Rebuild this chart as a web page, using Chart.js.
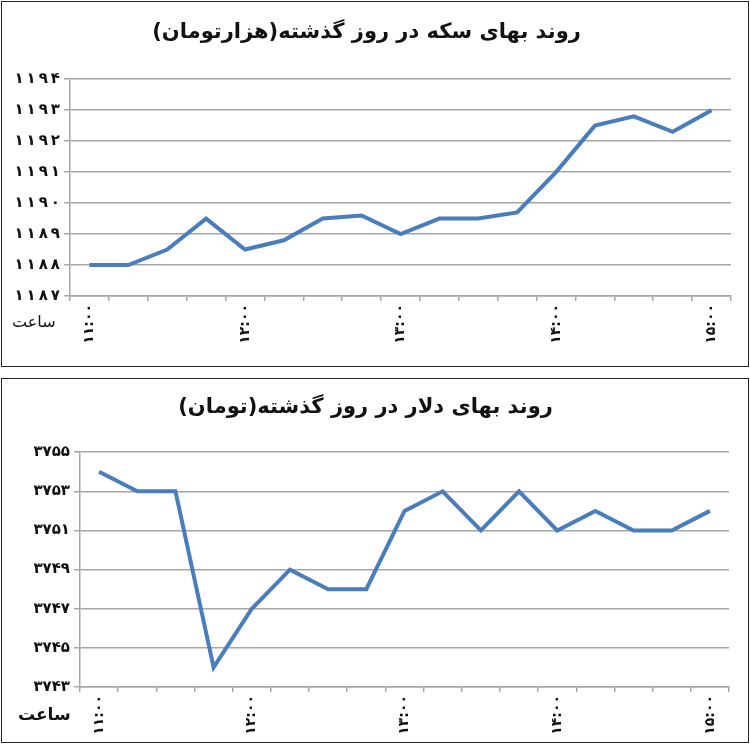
<!DOCTYPE html>
<html>
<head>
<meta charset="utf-8">
<script src="https://cdn.jsdelivr.net/npm/chart.js@4.4.1/dist/chart.umd.min.js"></script>
<style>
  body { margin: 0; background: #fff; width: 750px; height: 745px; position: relative; }
  .box { position: absolute; left: 1px; width: 746px; border: 1px solid #222; background: #fff; }
  #box1 { top: 1px; height: 364px; }
  #box2 { top: 378px; height: 363px; }
  .hour { position: absolute; font-family: "DejaVu Sans", sans-serif; color: #111; direction: rtl; }
</style>
</head>
<body>
<div class="box" id="box1"><canvas id="coin"></canvas></div>
<div class="box" id="box2"><canvas id="dollar"></canvas></div>
<span class="hour" style="left:12px; top:312px; font-size:16px;">ساعت</span>
<span class="hour" style="left:18px; top:704px; font-size:17px; font-weight:bold;">ساعت</span>
<script>
// quarter-hour readings, 11:00 to 15:00
let times = ['11:00', '11:15', '11:30', '11:45', '12:00', '12:15', '12:30', '12:45',
  '13:00', '13:15', '13:30', '13:45', '14:00', '14:15', '14:30', '14:45', '15:00'];
let coinPrices = [1188, 1188, 1188.5, 1189.5, 1188.5, 1188.8, 1189.5, 1189.6, 1189,
  1189.5, 1189.5, 1189.7, 1191, 1192.5, 1192.8, 1192.3, 1193];
let dollarPrices = [3754, 3753, 3753, 3744, 3747, 3749, 3748, 3748, 3752,
  3753, 3751, 3753, 3751, 3752, 3751, 3751, 3752];
let coinTitle = 'روند بهای سکه در روز گذشته(هزارتومان)';
let dollarTitle = 'روند بهای دلار در روز گذشته(تومان)';

const faDigits = '۰۱۲۳۴۵۶۷۸۹';
const toFa = (s) => String(s).replace(/\d/g, d => faDigits[d]);
const lineColor = '#4a7dbb';
const gridColor = '#a6a6a6';

function makeChart(id, data, title, opts) {
  let box = document.getElementById(id).parentNode;
  let canvas = document.getElementById(id);
  canvas.width = box.clientWidth;
  canvas.height = box.clientHeight;
  return new Chart(canvas, {
    type: 'line',
    data: {
      labels: times,
      datasets: [{
        data: data,
        borderColor: lineColor,
        borderWidth: 4,
        pointRadius: 0,
        tension: 0,
        fill: false
      }]
    },
    options: {
      responsive: false,
      animation: false,
      layout: { padding: { left: 0, right: opts.padRight, top: 0, bottom: 0 } },
      plugins: {
        legend: { display: false },
        tooltip: { enabled: false },
        title: {
          display: true,
          text: title,
          color: '#111',
          font: { family: 'DejaVu Sans', size: 21, weight: 'bold' },
          padding: { top: opts.titleTop, bottom: opts.titleBottom }
        }
      },
      scales: {
        x: {
          offset: true,
          grid: { offset: true, drawOnChartArea: false, drawTicks: true, tickLength: 5, color: gridColor, lineWidth: 1.5 },
          border: { color: gridColor, width: 1.5 },
          ticks: {
            autoSkip: false,
            minRotation: 90,
            maxRotation: 90,
            color: '#111',
            font: { family: 'DejaVu Sans', size: 14, weight: 'bold' },
            callback: function (v, i) {
              let t = times[i];
              return t.endsWith(':00') ? toFa(t) : '';
            }
          },
          afterFit: (s) => { s.height = opts.xHeight; }
        },
        y: {
          min: opts.min,
          max: opts.max,
          grid: { color: gridColor, lineWidth: 1.5, tickLength: 6 },
          border: { color: gridColor, width: 1.5 },
          ticks: {
            stepSize: opts.step,
            color: '#111',
            padding: 4,
            font: { family: 'DejaVu Sans', size: 15, weight: 'bold' },
            callback: (v) => opts.spaced ? toFa(v).split('').join('\u2009') : toFa(v)
          },
          afterFit: (s) => { s.width = opts.yWidth; }
        }
      }
    }
  });
}

makeChart('coin', coinPrices, coinTitle, {
  min: 1187, max: 1194, step: 1, spaced: true,
  padRight: 17, titleTop: 18, titleBottom: 34, xHeight: 70, yWidth: 68
});
makeChart('dollar', dollarPrices, dollarTitle, {
  min: 3743, max: 3755, step: 2, spaced: false,
  padRight: 19, titleTop: 16, titleBottom: 32, xHeight: 55, yWidth: 78
});
</script>
</body>
</html>
